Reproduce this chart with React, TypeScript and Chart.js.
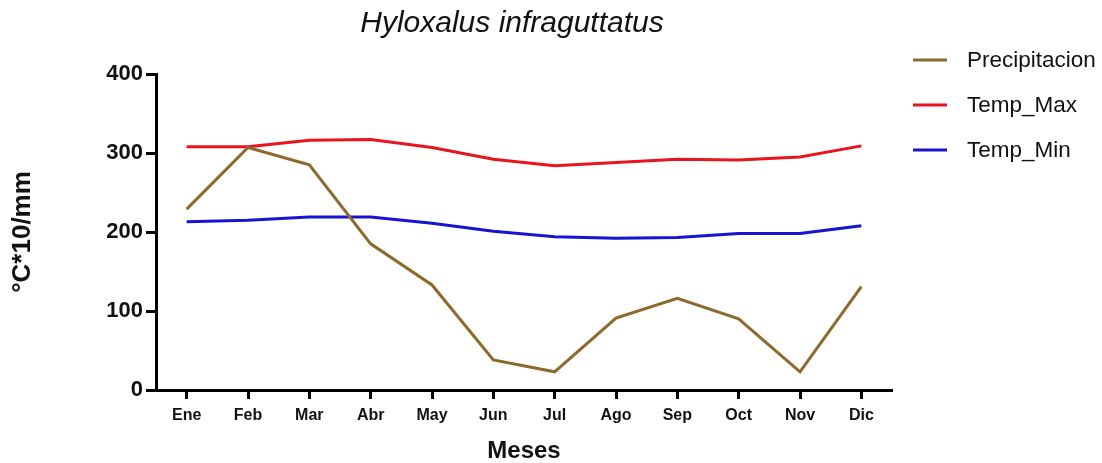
import React, { useEffect, useRef } from "react";
import { Chart, registerables } from "chart.js";

Chart.register(...registerables);

const months = ["Ene", "Feb", "Mar", "Abr", "May", "Jun", "Jul", "Ago", "Sep", "Oct", "Nov", "Dic"];
const precipitacion = [229, 307, 285, 185, 133, 38, 23, 91, 116, 90, 23, 131];
const tempMax = [308, 308, 316, 317, 307, 292, 284, 288, 292, 291, 295, 309];
const tempMin = [213, 215, 219, 219, 211, 201, 194, 192, 193, 198, 198, 208];
const seriesNames = ["Precipitacion", "Temp_Max", "Temp_Min"];
const seriesColors = ["#8c6a2c", "#e8141e", "#1414d2"];
const chartTitle = "Hyloxalus infraguttatus";
const yTitle = "°C*10/mm";
const xTitle = "Meses";

const FONT = "'Liberation Sans', Arial, sans-serif";

const overlayPlugin = {
  id: "overlay",
  afterDraw(chart: any) {
    const ctx = chart.ctx;
    ctx.save();
    // title
    ctx.fillStyle = "#111";
    ctx.font = `italic 30px ${FONT}`;
    ctx.textAlign = "center";
    ctx.textBaseline = "middle";
    ctx.fillText(chartTitle, 512, 24);
    // legend
    ctx.font = `22.5px ${FONT}`;
    ctx.textAlign = "left";
    chart.data.datasets.forEach((ds: any, i: number) => {
      const y = 60 + i * 45;
      ctx.strokeStyle = ds.borderColor;
      ctx.lineWidth = 3;
      ctx.beginPath();
      ctx.moveTo(913, y);
      ctx.lineTo(947, y);
      ctx.stroke();
      ctx.fillStyle = "#111";
      ctx.fillText(ds.label, 967, y + 1);
    });
    ctx.restore();
  },
};

export default function App() {
  const ref = useRef<HTMLCanvasElement>(null);
  useEffect(() => {
    if (!ref.current) return;
    const chart = new Chart(ref.current, {
      type: "line",
      data: {
        labels: months,
        datasets: [precipitacion, tempMax, tempMin].map((d, i) => ({
          label: seriesNames[i],
          data: d,
          borderColor: seriesColors[i],
          backgroundColor: seriesColors[i],
          borderWidth: 3,
          pointRadius: 0,
          tension: 0,
          fill: false,
        })),
      },
      options: {
        animation: false,
        responsive: false,
        maintainAspectRatio: false,
        layout: { padding: { top: 74, right: 210, bottom: 0, left: 0 } },
        plugins: {
          legend: { display: false },
          title: { display: false },
          tooltip: { enabled: false },
        },
        scales: {
          x: {
            offset: true,
            afterFit: (s: any) => { s.height = 73; },
            grid: { drawOnChartArea: false, drawTicks: true, tickLength: 9, tickWidth: 3, tickColor: "#000", offset: false },
            border: { display: true, color: "#000", width: 3 },
            ticks: { color: "#111", font: { family: FONT, size: 16, weight: "bold" }, padding: 7, maxRotation: 0, autoSkip: false },
            title: { display: true, text: xTitle, color: "#111", font: { family: FONT, size: 24, weight: "bold", lineHeight: 1 }, padding: { top: 0, bottom: 0 } },
          },
          y: {
            min: 0,
            max: 400,
            afterFit: (s: any) => { s.width = 156; },
            grid: { drawOnChartArea: false, drawTicks: true, tickLength: 10, tickWidth: 3, tickColor: "#000" },
            border: { display: true, color: "#000", width: 3 },
            ticks: { stepSize: 100, color: "#111", font: { family: FONT, size: 22, weight: "bold" }, padding: 3 },
            title: { display: true, text: yTitle, color: "#111", font: { family: FONT, size: 26, weight: "bold", lineHeight: 1.2 }, padding: { top: 7, bottom: 0 } },
          },
        },
      },
      plugins: [overlayPlugin],
    });
    return () => chart.destroy();
  }, []);
  return (
    <div style={{ position: "fixed", left: 0, top: 0, width: 1102, height: 463, background: "#fff" }}>
      <canvas ref={ref} width={1102} height={463} />
    </div>
  );
}
